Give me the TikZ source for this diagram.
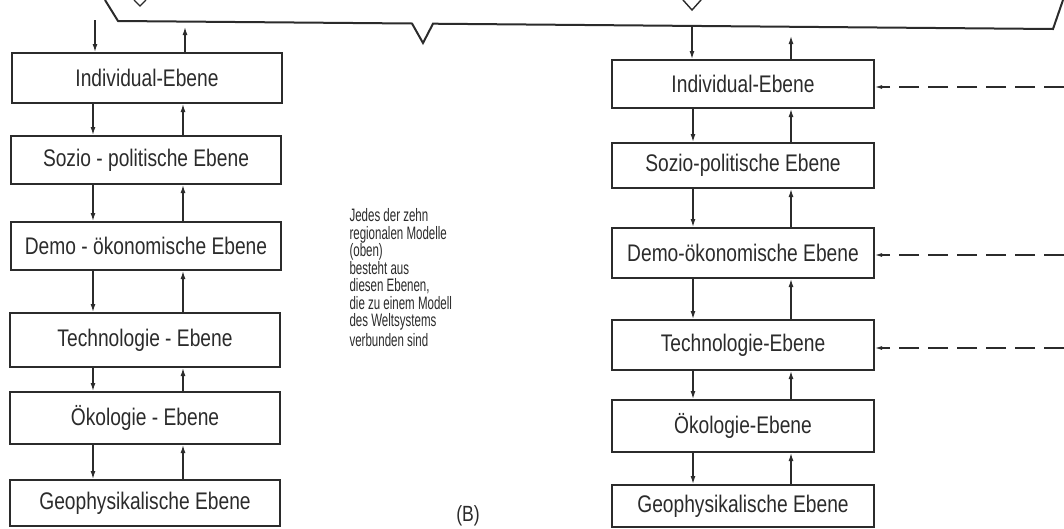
\documentclass[tikz,border=0pt]{standalone}
\usepackage{fontspec}
\setmainfont{Liberation Sans}[FakeStretch=0.8]
\newfontfamily\narrowfont{Liberation Sans}[FakeStretch=0.64]
\usetikzlibrary{arrows.meta}
\definecolor{ink}{HTML}{2B2B2B}
\begin{document}
\begin{tikzpicture}[x=1pt,y=-1pt,
  box/.style={draw=ink, line width=2pt, inner sep=0pt, text=ink,
    font=\fontsize{24}{26}\selectfont},
  arr/.style={draw=ink, line width=1.3pt, -{Latex[length=8pt,width=5pt]}},
  dasharr/.style={draw=ink, line width=1.1pt, dash pattern=on 20pt off 9pt,
    -{Latex[length=7pt,width=4pt]}},
  brk/.style={draw=ink, line width=2pt, line join=miter},
  note/.style={text=ink, align=left, font=\narrowfont\fontsize{18}{17.5}\selectfont}]
\useasboundingbox (0,0) rectangle (1064,528);

% bracket from the part above
\draw[brk] (105,0) -- (118,21) -- (412,23.5) -- (423,43) -- (433,23.7) -- (1053,29) -- (1063,0);
\draw[brk, line width=1.4pt] (134,0) -- (140,6) -- (146,0);
\draw[brk, line width=1.4pt] (683,0) -- (692,10) -- (701,0);

% left column
\node[box, minimum width=270pt, minimum height=50pt] (L1) at (147,78) {Individual-Ebene};
\node[box, minimum width=270pt, minimum height=48pt] (L2) at (146,160) {Sozio - politische Ebene};
\node[box, minimum width=270pt, minimum height=48pt] (L3) at (146,246) {Demo - ökonomische Ebene};
\node[box, minimum width=270pt, minimum height=54pt] (L4) at (145,340) {Technologie - Ebene};
\node[box, minimum width=270pt, minimum height=52pt] (L5) at (145,418) {Ökologie - Ebene};
\node[box, minimum width=270pt, minimum height=46pt] (L6) at (145,503) {Geophysikalische Ebene};

% right column
\node[box, minimum width=262pt, minimum height=48pt] (R1) at (743,84) {Individual-Ebene};
\node[box, minimum width=262pt, minimum height=45pt] (R2) at (743,165.5) {Sozio-politische Ebene};
\node[box, minimum width=262pt, minimum height=50pt] (R3) at (743,253) {Demo-ökonomische Ebene};
\node[box, minimum width=262pt, minimum height=50pt] (R4) at (743,345) {Technologie-Ebene};
\node[box, minimum width=262pt, minimum height=52pt] (R5) at (743,426) {Ökologie-Ebene};
\node[box, minimum width=262pt, minimum height=42pt] (R6) at (743,506) {Geophysikalische Ebene};

% column positions
\coordinate (ld) at (93,0);
\coordinate (lu) at (183,0);
\coordinate (rd) at (693,0);
\coordinate (ru) at (791,0);

% top connections
\coordinate (tl1) at (95,20);
\coordinate (tl2) at (185,27);
\coordinate (tr1) at (692,27);
\coordinate (tr2) at (791,36);
\draw[arr] (tl1) -- (tl1 |- L1.north);
\draw[arr] (tl2 |- L1.north) -- (tl2);
\draw[arr] (tr1) -- (tr1 |- R1.north);
\draw[arr] (tr2 |- R1.north) -- (tr2);

% left column arrows
\foreach \a/\b in {L1/L2,L2/L3,L3/L4,L4/L5,L5/L6}{
  \draw[arr] (ld |- \a.south) -- (ld |- \b.north);
  \draw[arr] (lu |- \b.north) -- (lu |- \a.south);
}
% right column arrows
\foreach \a/\b in {R1/R2,R2/R3,R3/R4,R4/R5,R5/R6}{
  \draw[arr] (rd |- \a.south) -- (rd |- \b.north);
  \draw[arr] (ru |- \b.north) -- (ru |- \a.south);
}

% dashed inputs from the right
\coordinate (d1) at (1064,87);
\coordinate (d3) at (1064,255);
\coordinate (d4) at (1064,348);
\draw[dasharr] (d1) -- (d1 -| R1.east);
\draw[dasharr] (d3) -- (d3 -| R3.east);
\draw[dasharr] (d4) -- (d4 -| R4.east);

% explanatory text
\node[note, anchor=north west] (txt) at (346,205) {Jedes der zehn\\regionalen Modelle\\(oben)\\besteht aus\\diesen Ebenen,\\die zu einem Modell\\des Weltsystems\\[2pt]verbunden sind};
\node[text=ink, font=\fontsize{22}{24}\selectfont] (lab) at (468,516) {(B)};
\end{tikzpicture}
\end{document}
